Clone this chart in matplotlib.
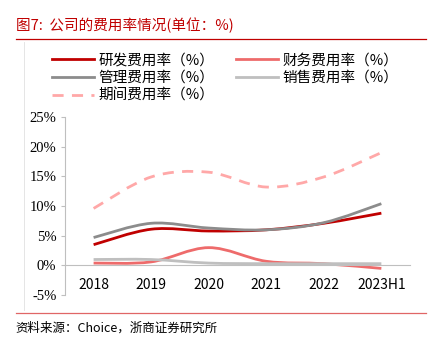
import matplotlib
matplotlib.use("Agg")
import matplotlib.pyplot as plt
from matplotlib.path import Path
from matplotlib.patches import PathPatch
from matplotlib.lines import Line2D

plt.rcParams['font.family'] = ['Noto Sans CJK SC', 'DejaVu Sans']

# data (%)
years = ['2018', '2019', '2020', '2021', '2022', '2023H1']
rd = [3.5, 6.1, 5.8, 6.0, 7.1, 8.8]          # 研发费用率
finance = [0.4, 0.6, 3.0, 0.7, 0.3, -0.5]    # 财务费用率
admin = [4.7, 7.1, 6.3, 6.0, 7.2, 10.4]      # 管理费用率
sales = [1.0, 1.0, 0.4, 0.3, 0.3, 0.3]       # 销售费用率
period = [9.6, 14.9, 15.7, 13.2, 14.9, 19.0] # 期间费用率

series = [
    ('研发费用率（%）', rd, '#C00000', '-'),
    ('管理费用率（%）', admin, '#8C8C8C', '-'),
    ('期间费用率（%）', period, '#FFA8A8', (0, (4, 3))),
    ('财务费用率（%）', finance, '#EE6B6B', '-'),
    ('销售费用率（%）', sales, '#BFBFBF', '-'),
]


def smooth_path(xs, ys):
    # Excel-style smoothed line: cubic bezier through every point
    pts = list(zip(xs, ys))
    n = len(pts)
    verts = [pts[0]]
    codes = [Path.MOVETO]
    for i in range(n - 1):
        p0 = pts[i - 1] if i > 0 else pts[i]
        p1 = pts[i]
        p2 = pts[i + 1]
        p3 = pts[i + 2] if i + 2 < n else pts[i + 1]
        c1 = (p1[0] + (p2[0] - p0[0]) / 6, p1[1] + (p2[1] - p0[1]) / 6)
        c2 = (p2[0] - (p3[0] - p1[0]) / 6, p2[1] - (p3[1] - p1[1]) / 6)
        verts += [c1, c2, p2]
        codes += [Path.CURVE4] * 3
    return Path(verts, codes)


fig = plt.figure(figsize=(4.41, 3.44), dpi=100)
ax = fig.add_axes([0.147, 0.142, 0.783, 0.518])

x = list(range(len(years)))
handles = []
for label, vals, color, ls in series:
    patch = PathPatch(smooth_path(x, vals), facecolor='none', edgecolor=color,
                      lw=2.0, linestyle=ls, capstyle='butt')
    ax.add_patch(patch)
    handles.append(Line2D([], [], color=color, lw=2.0, linestyle=ls, label=label))

ax.set_xlim(-0.5, len(years) - 0.5)
ax.set_ylim(-5, 25)
ax.set_yticks(range(-5, 26, 5))
ax.set_yticklabels([f'{v}%' for v in range(-5, 26, 5)],
                   fontfamily='Liberation Serif', fontsize=10.5)
ax.set_xticks(x)
ax.set_xticklabels(years, fontfamily='Liberation Serif', fontsize=10.5)
ax.spines['bottom'].set_position(('data', 0))
ax.spines['bottom'].set_color('#BFBFBF')
ax.spines['left'].set_color('#BFBFBF')
ax.spines['top'].set_visible(False)
ax.spines['right'].set_visible(False)
ax.tick_params(axis='x', length=0, pad=9)
ax.tick_params(axis='y', length=3, color='#BFBFBF', pad=3)

# title, rules and source
fig.text(0.036, 0.927, '图7:  公司的费用率情况(单位：%)', color='#C00000',
         fontsize=10.5, va='center', ha='left')
fig.add_artist(Line2D([0.036, 0.966], [0.886, 0.886], color='#C00000', lw=0.9))
fig.add_artist(Line2D([0.036, 0.966], [0.090, 0.090], color='#E06666', lw=0.9))
fig.add_artist(Line2D([0.054, 0.054], [0.878, 0.098], color='#E0E0E0', lw=0.6))
fig.text(0.036, 0.047, '资料来源：Choice，浙商证券研究所', fontsize=9,
         va='center', ha='left')

fig.legend(handles=handles, ncol=2, loc='upper left',
           bbox_to_anchor=(0.118, 0.845), frameon=False, fontsize=10.5,
           handlelength=2.9, handletextpad=0.3, columnspacing=1.45,
           labelspacing=0.25, borderpad=0, borderaxespad=0)

fig.savefig('out.png', dpi=100)
